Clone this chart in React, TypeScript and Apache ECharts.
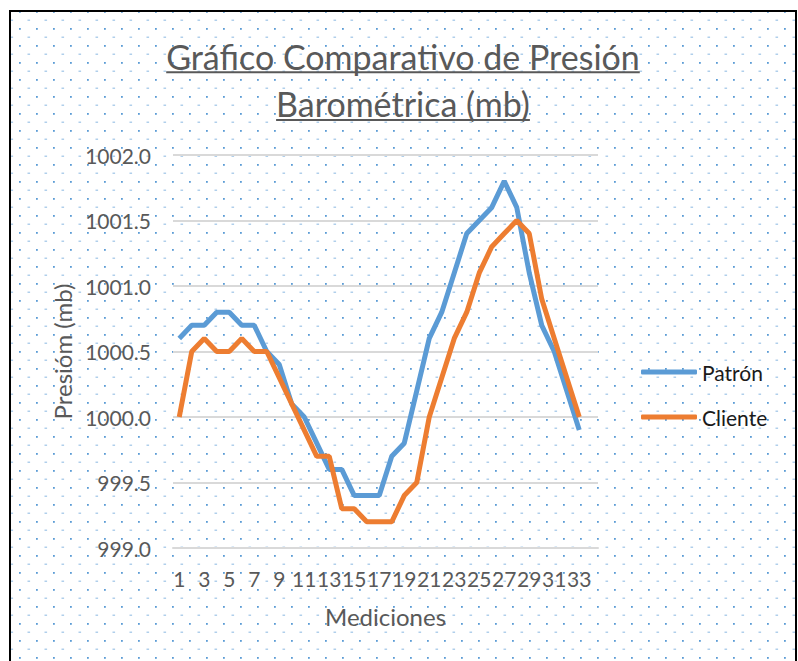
import React, { useEffect, useRef } from "react";
import * as echarts from "echarts";

const titleLine1 = "Gráfico Comparativo de Presión";
const titleLine2 = "Barométrica (mb)";
const xName = "Mediciones";
const yName = "Presióm (mb)";

const categories = [
  "1", "2", "3", "4", "5", "6", "7", "8", "9", "10", "11", "12", "13", "14", "15", "16", "17",
  "18", "19", "20", "21", "22", "23", "24", "25", "26", "27", "28", "29", "30", "31", "32", "33", "34",
];

const patron = [
  1000.6, 1000.7, 1000.7, 1000.8, 1000.8, 1000.7, 1000.7, 1000.5, 1000.4, 1000.1, 1000.0,
  999.8, 999.6, 999.6, 999.4, 999.4, 999.4, 999.7, 999.8, 1000.2, 1000.6, 1000.8,
  1001.1, 1001.4, 1001.5, 1001.6, 1001.8, 1001.6, 1001.1, 1000.7, 1000.5, 1000.2, 999.9,
];

const cliente = [
  1000.0, 1000.5, 1000.6, 1000.5, 1000.5, 1000.6, 1000.5, 1000.5, 1000.3, 1000.1, 999.9,
  999.7, 999.7, 999.3, 999.3, 999.2, 999.2, 999.2, 999.4, 999.5, 1000.0, 1000.3,
  1000.6, 1000.8, 1001.1, 1001.3, 1001.4, 1001.5, 1001.4, 1000.9, 1000.6, 1000.3, 1000.0,
];

const FONT = "Lato";

const dotTile =
  "data:image/svg+xml;utf8," +
  encodeURIComponent(
    '<svg xmlns="http://www.w3.org/2000/svg" width="17" height="17" viewBox="0 0 17 17">' +
      '<rect x="1" y="1" width="1.8" height="1.8" fill="#5B9BD5"/>' +
      '<rect x="9.5" y="9.6" width="2.6" height="1.2" fill="#9DC3E6"/>' +
      "</svg>"
  );

export default function App() {
  const ref = useRef<HTMLDivElement>(null);

  useEffect(() => {
    if (!ref.current) return;
    const chart = echarts.init(ref.current, null, { renderer: "svg" });

    const ctx = document.createElement("canvas").getContext("2d")!;
    ctx.font = `100px ${FONT}`;
    const w100 = ctx.measureText(titleLine1).width;
    const titleSize = Math.round(((100 * 477) / w100) * 2) / 2;
    ctx.font = `${titleSize}px ${FONT}`;
    const w1 = ctx.measureText(titleLine1).width;
    const w2 = ctx.measureText(titleLine2).width;
    const cx = 403;

    chart.setOption({
      animation: false,
      backgroundColor: "transparent",
      textStyle: { fontFamily: FONT },
      grid: { left: 173, right: 200, top: 155, bottom: 113 },
      graphic: [
        {
          type: "text",
          x: cx,
          y: 56,
          style: {
            text: titleLine1,
            font: `${titleSize}px ${FONT}`,
            fill: "#595959",
            textAlign: "center",
            textVerticalAlign: "middle",
          },
        },
        {
          type: "text",
          x: cx,
          y: 103.5,
          style: {
            text: titleLine2,
            font: `${titleSize}px ${FONT}`,
            fill: "#595959",
            textAlign: "center",
            textVerticalAlign: "middle",
          },
        },
        {
          type: "line",
          shape: { x1: cx - w1 / 2, y1: 72.3, x2: cx + w1 / 2, y2: 72.3 },
          style: { stroke: "#595959", lineWidth: 2 },
        },
        {
          type: "line",
          shape: { x1: cx - w2 / 2, y1: 120, x2: cx + w2 / 2, y2: 120 },
          style: { stroke: "#595959", lineWidth: 2 },
        },
      ],
      legend: {
        orient: "vertical",
        left: 641,
        top: 361.5,
        padding: 0,
        icon: "roundRect",
        itemWidth: 56,
        itemHeight: 5,
        itemGap: 24,
        textStyle: { fontFamily: FONT, fontSize: 21, color: "#1a1a1a", padding: [0, 0, 0, 0] },
        data: ["Patrón", "Cliente"],
      },
      xAxis: {
        type: "category",
        data: categories,
        boundaryGap: true,
        name: xName,
        nameLocation: "middle",
        nameGap: 56,
        nameTextStyle: { fontFamily: FONT, fontSize: 24, color: "#595959" },
        axisLine: { show: true, lineStyle: { color: "#D9D9D9", width: 2 } },
        axisTick: { show: false },
        axisLabel: {
          interval: 1,
          margin: 20,
          fontFamily: FONT,
          fontSize: 21,
          color: "#595959",
        },
        splitLine: { show: false },
      },
      yAxis: {
        type: "value",
        min: 999,
        max: 1002,
        interval: 0.5,
        name: yName,
        nameLocation: "middle",
        nameGap: 98,
        nameTextStyle: { fontFamily: FONT, fontSize: 24, color: "#595959" },
        axisLine: { show: false },
        axisTick: { show: false },
        axisLabel: {
          margin: 22,
          fontFamily: FONT,
          fontSize: 21,
          color: "#595959",
          formatter: (v: number) => v.toFixed(1),
        },
        splitLine: { show: true, lineStyle: { color: "#D9D9D9", width: 2 } },
      },
      series: [
        {
          name: "Patrón",
          type: "line",
          data: patron,
          symbol: "none",
          color: "#5B9BD5",
          lineStyle: { width: 5, color: "#5B9BD5" },
        },
        {
          name: "Cliente",
          type: "line",
          data: cliente,
          symbol: "none",
          color: "#ED7D31",
          lineStyle: { width: 5, color: "#ED7D31" },
        },
      ],
    });

    return () => chart.dispose();
  }, []);

  return (
    <div
      style={{
        position: "fixed",
        left: 0,
        top: 0,
        width: 798,
        height: 661,
        background: "#ffffff",
        overflow: "hidden",
      }}
    >
      <div
        style={{
          position: "absolute",
          left: 9,
          top: 10,
          width: 784,
          height: 700,
          border: "2px solid #000",
          backgroundColor: "#ffffff",
          backgroundImage: `url("${dotTile}")`,
          backgroundSize: "17px 17px",
          backgroundPosition: "7.1px 15.4px",
          backgroundRepeat: "repeat",
        }}
      />
      <div
        ref={ref}
        style={{ position: "absolute", left: 0, top: 0, width: 798, height: 661 }}
      />
    </div>
  );
}
